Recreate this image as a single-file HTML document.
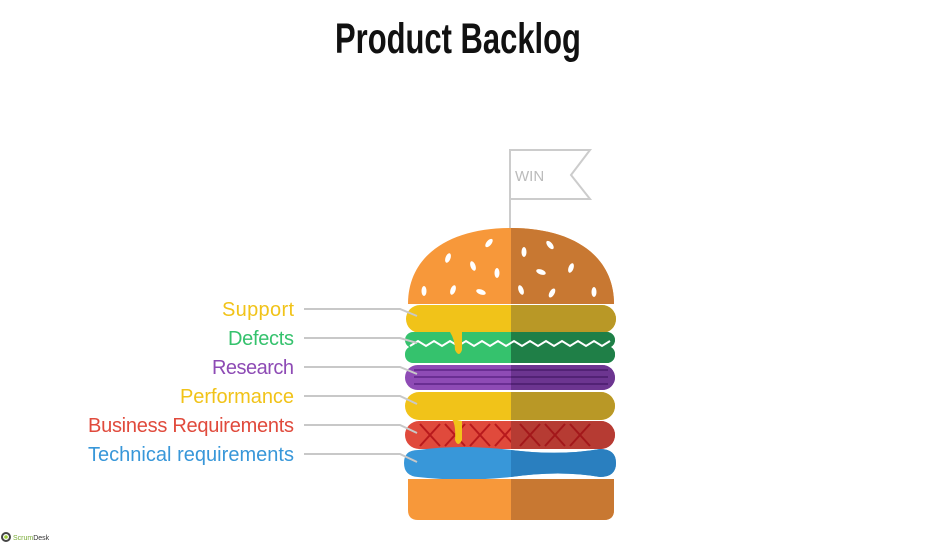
<!DOCTYPE html>
<html><head><meta charset="utf-8"><style>
body{margin:0;background:#fff;width:925px;height:546px;overflow:hidden}
svg{display:block}
</style></head><body>
<svg width="925" height="546" viewBox="0 0 925 546" xmlns="http://www.w3.org/2000/svg">
<defs>
<clipPath id="r"><rect x="511" y="0" width="200" height="546"/></clipPath>
</defs>
<text x="458" y="53" text-anchor="middle" font-family="Liberation Sans Narrow, Liberation Sans, sans-serif" font-size="43" font-weight="bold" fill="#111" transform="translate(458 0) scale(0.72 1) translate(-458 0)">Product Backlog</text>

<!-- flag -->
<line x1="510" y1="150" x2="510" y2="238" stroke="#ccc" stroke-width="2"/>
<path d="M510 150 H590 L571 175 L590 199 H510 Z" fill="#fff" stroke="#ccc" stroke-width="2"/>
<text x="515" y="181" font-family="Liberation Sans, sans-serif" font-size="15" fill="#bbb">WIN</text>

<g id="burger">
<path d="M408 304 C408 255 450 228 511 228 C572 228 614 255 614 304 Z" fill="#f7983a"/>
<rect x="406" y="305" width="210" height="28" rx="14" fill="#f1c319"/>
<rect x="405" y="332" width="210" height="16" rx="8" fill="#35c26d"/>
<rect x="405" y="346" width="210" height="17" rx="8" fill="#35c26d"/>
<polyline points="410,346 418,341 426,346 434,341 442,346 450,341 458,346 466,341 474,346 482,341 490,346 498,341 506,346 514,341 522,346 530,341 538,346 546,341 554,346 562,341 570,346 578,341 586,346 594,341 602,346 610,341" fill="none" stroke="#fff" stroke-width="2"/>
<path d="M450 332 Q455 340 455 350 Q459 358 462 350 L462 332 Z" fill="#f1c319"/>
<rect x="405" y="365" width="210" height="25" rx="12.5" fill="#8e4bb5"/>
<line x1="414" y1="370" x2="608" y2="370" stroke="#5e2488" stroke-width="1.5"/>
<line x1="414" y1="377" x2="608" y2="377" stroke="#5e2488" stroke-width="1.5"/>
<line x1="414" y1="384" x2="608" y2="384" stroke="#5e2488" stroke-width="1.5"/>
<rect x="405" y="392" width="210" height="28" rx="14" fill="#f1c319"/>
<rect x="405" y="421" width="210" height="28" rx="14" fill="#e04a3c"/>
<path d="M420 424 L440 446 M440 424 L420 446 M445 424 L465 446 M465 424 L445 446 M470 424 L490 446 M490 424 L470 446 M495 424 L515 446 M515 424 L495 446" stroke="#b8191c" stroke-width="2" fill="none"/>
<path d="M452 419 Q456 425 455 440 Q458 448 462 440 L462 421 Z" fill="#f1c319"/>
<path d="M418 450 Q460 444 511 450 Q560 456 600 449 Q616 449 616 463 Q616 477 600 477 Q560 470 511 477 Q460 482 418 477 Q404 476 404 463 Q404 450 418 450 Z" fill="#3897d9"/>
<path d="M408 479 H614 V510 Q614 520 604 520 H418 Q408 520 408 510 Z" fill="#f7983a"/>
</g>
<g clip-path="url(#r)">
<path d="M408 304 C408 255 450 228 511 228 C572 228 614 255 614 304 Z" fill="#c87832"/>
<rect x="406" y="305" width="210" height="28" rx="14" fill="#b99826"/>
<rect x="405" y="332" width="210" height="16" rx="8" fill="#1f7f47"/>
<rect x="405" y="346" width="210" height="17" rx="8" fill="#1f7f47"/>
<polyline points="506,346 514,341 522,346 530,341 538,346 546,341 554,346 562,341 570,346 578,341 586,346 594,341 602,346 610,341" fill="none" stroke="#fff" stroke-width="2"/>
<rect x="405" y="365" width="210" height="25" rx="12.5" fill="#6c3590"/>
<line x1="414" y1="370" x2="608" y2="370" stroke="#4a1c6c" stroke-width="1.5"/>
<line x1="414" y1="377" x2="608" y2="377" stroke="#4a1c6c" stroke-width="1.5"/>
<line x1="414" y1="384" x2="608" y2="384" stroke="#4a1c6c" stroke-width="1.5"/>
<rect x="405" y="392" width="210" height="28" rx="14" fill="#b99826"/>
<rect x="405" y="421" width="210" height="28" rx="14" fill="#b63b33"/>
<path d="M520 424 L540 446 M540 424 L520 446 M545 424 L565 446 M565 424 L545 446 M570 424 L590 446 M590 424 L570 446" stroke="#a3171a" stroke-width="2" fill="none"/>
<path d="M418 450 Q460 444 511 450 Q560 456 600 449 Q616 449 616 463 Q616 477 600 477 Q560 470 511 477 Q460 482 418 477 Q404 476 404 463 Q404 450 418 450 Z" fill="#2a7fbf"/>
<path d="M408 479 H614 V510 Q614 520 604 520 H418 Q408 520 408 510 Z" fill="#c87832"/>
</g>
<g fill="#fff">
<ellipse cx="489" cy="243" rx="2.5" ry="5" transform="rotate(40 489 243)"/>
<ellipse cx="448" cy="258" rx="2.5" ry="5" transform="rotate(20 448 258)"/>
<ellipse cx="473" cy="266" rx="2.5" ry="5" transform="rotate(-20 473 266)"/>
<ellipse cx="497" cy="273" rx="2.5" ry="5"/>
<ellipse cx="424" cy="291" rx="2.5" ry="5"/>
<ellipse cx="453" cy="290" rx="2.5" ry="5" transform="rotate(20 453 290)"/>
<ellipse cx="481" cy="292" rx="5" ry="2.5" transform="rotate(20 481 292)"/>
<ellipse cx="524" cy="252" rx="2.5" ry="5"/>
<ellipse cx="550" cy="245" rx="2.5" ry="5" transform="rotate(-40 550 245)"/>
<ellipse cx="571" cy="268" rx="2.5" ry="5" transform="rotate(20 571 268)"/>
<ellipse cx="541" cy="272" rx="5" ry="2.5" transform="rotate(20 541 272)"/>
<ellipse cx="521" cy="290" rx="2.5" ry="5" transform="rotate(-20 521 290)"/>
<ellipse cx="552" cy="293" rx="2.5" ry="5" transform="rotate(30 552 293)"/>
<ellipse cx="594" cy="292" rx="2.5" ry="5"/>
</g>
<g stroke="#c8c8c8" stroke-width="2" fill="none">
<path d="M304 309 H400 L417 316"/>
<path d="M304 338 H400 L417 343"/>
<path d="M304 367 H400 L417 374"/>
<path d="M304 396 H400 L417 404"/>
<path d="M304 425 H400 L417 433"/>
<path d="M304 454 H400 L417 462"/>
</g>
<g font-family="Liberation Sans, sans-serif" font-size="20" text-anchor="end" transform="translate(294 0) scale(1.0 1) translate(-294 0)">
<text x="294" y="316" fill="#f1c319" textLength="72">Support</text>
<text x="294" y="345" fill="#35c26d" textLength="66">Defects</text>
<text x="294" y="374" fill="#8e4bb5" textLength="82">Research</text>
<text x="294" y="403" fill="#f1c319" textLength="114">Performance</text>
<text x="294" y="432" fill="#e04a3c" textLength="206">Business Requirements</text>
<text x="294" y="461" fill="#3897d9" textLength="206">Technical requirements</text>
</g>
<circle cx="6" cy="537" r="4" fill="none" stroke="#444" stroke-width="2"/>
<circle cx="6" cy="537" r="1.8" fill="#9c3"/>
<text x="13" y="540" font-family="Liberation Sans, sans-serif" font-size="7" fill="#7a3">Scrum<tspan fill="#333">Desk</tspan></text>
</svg>
</body></html>
